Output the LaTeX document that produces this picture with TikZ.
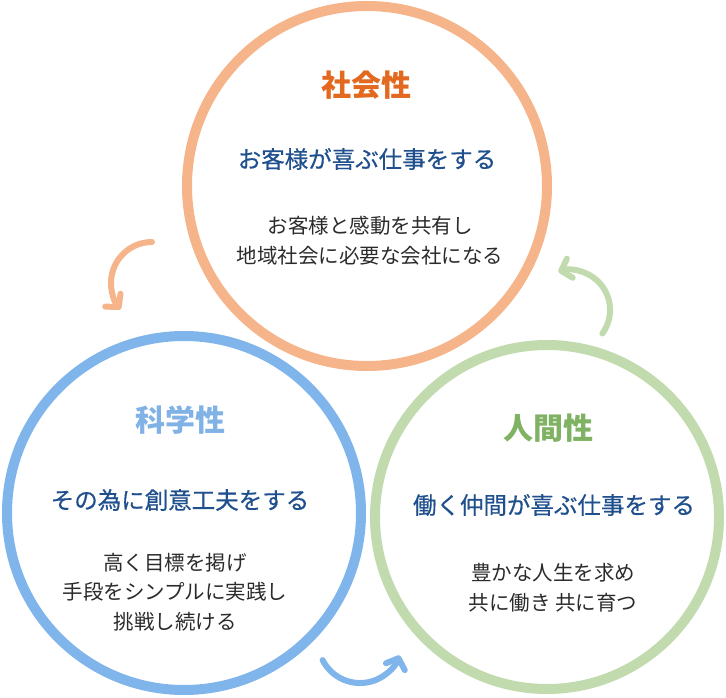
\documentclass[tikz,border=0pt]{standalone}
\usepackage{fontspec}
\newfontfamily\jp{Noto Sans CJK JP}
\newfontfamily\jpmed[FakeBold=0.5]{Noto Sans CJK JP}
\usetikzlibrary{arrows.meta}
\definecolor{orcirc}{HTML}{F5B48A}
\definecolor{ortitle}{HTML}{E2691F}
\definecolor{blcirc}{HTML}{80B5EC}
\definecolor{bltitle}{HTML}{80B2E6}
\definecolor{grcirc}{HTML}{C1DBAE}
\definecolor{grtitle}{HTML}{7FB263}
\definecolor{subcol}{HTML}{1F4F8C}
\definecolor{bodycol}{HTML}{2B2B2B}
\begin{document}
\begin{tikzpicture}[x=1pt,y=-1pt,
  ring/.style={circle,draw=#1,line width=10pt,inner sep=0pt},
  ttl/.style={text=#1,font=\jp\bfseries\fontsize{30}{34}\selectfont,inner sep=0pt},
  sub/.style={text=subcol,font=\jpmed\fontsize{23.5}{28}\selectfont,inner sep=0pt},
  body/.style={text=bodycol,font=\jp\fontsize{20.5}{29.5}\selectfont,align=center,inner sep=0pt},
  arr/.style={draw=#1,line width=6pt,line cap=round,
    -{Straight Barb[length=9pt,width=20pt,round]}}
]
\useasboundingbox (0,0) rectangle (726,698);
% circles
\node[ring=orcirc,minimum size=360pt] (top) at (367,186) {};
\node[ring=blcirc,minimum size=354pt] (left) at (184,513) {};
\node[ring=grcirc,minimum size=344pt] (right) at (547,517) {};
% top texts
\node[ttl=ortitle] (t1) at (366,85) {社会性};
\node[sub] (s1) at (367,159) {お客様が喜ぶ仕事をする};
\node[body] (b1) at (370,240.5) {お客様と感動を共有し\\地域社会に必要な会社になる};
% left texts
\node[ttl=bltitle] (t2) at (180,420) {科学性};
\node[sub] (s2) at (180,500) {その為に創意工夫をする};
\node[body] (b2) at (175,592) {高く目標を掲げ\\手段をシンプルに実践し\\挑戦し続ける};
% right texts
\node[ttl=grtitle] (t3) at (548,428) {人間性};
\node[sub] (s3) at (554,505) {働く仲間が喜ぶ仕事をする};
\node[body] (b3) at (553,587.5) {豊かな人生を求め\\共に働き 共に育つ};
% arrows
\coordinate (oa) at (152,242);
\draw[arr=orcirc] (oa) arc[start angle=270,end angle=140,radius=41];
\coordinate (ba) at (322.6,660.1);
\draw[arr=blcirc] (ba) arc[start angle=153,end angle=20,radius=42];
\coordinate (ga) at (602.4,333.5);
\draw[arr=grcirc] (ga) arc[start angle=36,end angle=-107,radius=40];
\end{tikzpicture}
\end{document}
